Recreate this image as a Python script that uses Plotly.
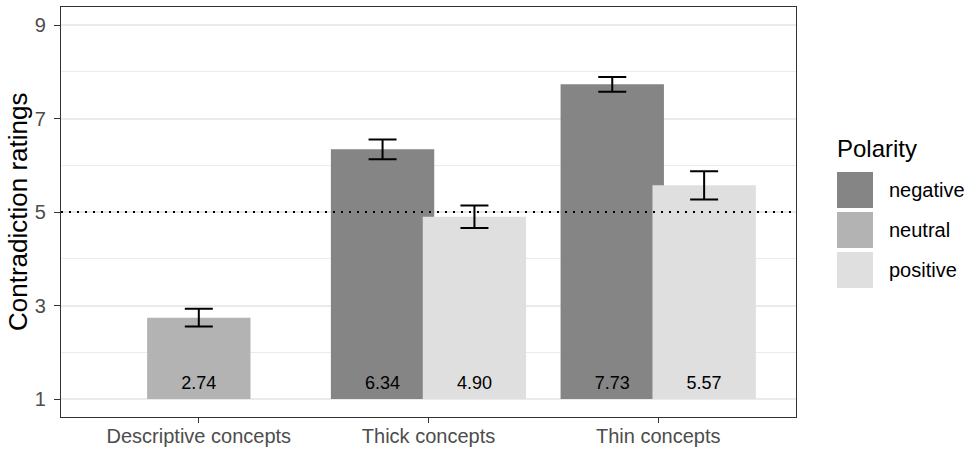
import plotly.graph_objects as go

# ---------------- data ----------------
categories = ["Descriptive concepts", "Thick concepts", "Thin concepts"]
polarities = ["negative", "neutral", "positive"]

negative_cats = ["Thick concepts", "Thin concepts"]
negative_means = [6.34, 7.73]
negative_se = [0.21, 0.16]

neutral_cats = ["Descriptive concepts"]
neutral_means = [2.74]
neutral_se = [0.19]

positive_cats = ["Thick concepts", "Thin concepts"]
positive_means = [4.90, 5.57]
positive_se = [0.24, 0.30]

y_ticks = [1, 3, 5, 7, 9]
reference_line = 5
bar_base = 1

# ---------------- style ----------------
fill = {"negative": "#858585", "neutral": "#b3b3b3", "positive": "#dfdfdf"}
dodge = {"negative": -0.2, "neutral": 0.0, "positive": 0.2}
BAR_W = 0.45
LABEL_Y = 1.32
FONT = "Liberation Sans, Arial, sans-serif"

W, H = 969, 450
ML, MR, MT, MB = 61, 173, 7, 33
PW, PH = W - ML - MR, H - MT - MB


def px_x(p):
    return (p - ML) / PW


def px_y(p):
    return (H - MB - p) / PH


series = [
    ("negative", negative_cats, negative_means, negative_se),
    ("neutral", neutral_cats, neutral_means, neutral_se),
    ("positive", positive_cats, positive_means, positive_se),
]

fig = go.Figure()
for pol, cats, means, se in series:
    xs = [categories.index(c) + dodge[pol] for c in cats]
    fig.add_trace(go.Bar(
        x=xs, y=[m - bar_base for m in means], base=bar_base, width=BAR_W,
        marker=dict(color=fill[pol], line=dict(width=0)),
        error_y=dict(type="data", array=se, visible=True, color="black",
                     thickness=2, width=14),
        name=pol, showlegend=False,
    ))
for pol, cats, means, se in series:
    xs = [categories.index(c) + dodge[pol] for c in cats]
    fig.add_trace(go.Scatter(
        x=xs, y=[LABEL_Y] * len(xs), mode="text",
        text=[f"{m:.2f}" for m in means],
        textfont=dict(family=FONT, size=18, color="black"),
        showlegend=False, hoverinfo="skip",
    ))

shapes = [dict(type="line", xref="paper", yref="y", x0=0, x1=1,
               y0=reference_line, y1=reference_line,
               line=dict(color="black", width=2.2, dash="2px,6px"))]
annotations = [dict(text="Contradiction ratings", xref="paper", yref="paper",
                    x=px_x(18), y=0.5, textangle=-90, showarrow=False,
                    xanchor="center", yanchor="middle",
                    font=dict(family=FONT, size=26, color="black")),
               dict(text="Polarity", xref="paper", yref="paper",
                    x=px_x(835), y=px_y(148), showarrow=False,
                    xanchor="left", yanchor="middle",
                    font=dict(family=FONT, size=24, color="black"))]
for i, pol in enumerate(polarities):
    top = 172 + 40 * i
    shapes.append(dict(type="rect", xref="paper", yref="paper",
                       x0=px_x(837), x1=px_x(873), y0=px_y(top + 36), y1=px_y(top),
                       fillcolor=fill[pol], line=dict(width=0)))
    annotations.append(dict(text=pol, xref="paper", yref="paper",
                            x=px_x(887), y=px_y(top + 18), showarrow=False,
                            xanchor="left", yanchor="middle",
                            font=dict(family=FONT, size=20, color="black")))

fig.update_layout(
    width=W, height=H, margin=dict(l=ML, r=MR, t=MT, b=MB, autoexpand=False),
    paper_bgcolor="white", plot_bgcolor="white",
    barmode="overlay", showlegend=False,
    shapes=shapes, annotations=annotations,
    font=dict(family=FONT),
)
fig.update_xaxes(
    automargin=False,
    range=[-0.6, 2.6], tickvals=list(range(len(categories))), ticktext=categories,
    showgrid=False, zeroline=False,
    showline=True, mirror=True, linecolor="#333333", linewidth=1.2,
    ticks="outside", ticklen=5, tickwidth=1.2, tickcolor="#333333",
    ticklabelstandoff=-4,
    tickfont=dict(family=FONT, size=20, color="#4d4d4d"),
)
fig.update_yaxes(
    automargin=False,
    range=[0.615, 9.385], tickvals=y_ticks, zeroline=False,
    showgrid=True, gridcolor="#ebebeb", gridwidth=1.5,
    minor=dict(tickvals=[2, 4, 6, 8], showgrid=True, gridcolor="#ebebeb", gridwidth=1),
    showline=True, mirror=True, linecolor="#333333", linewidth=1.2,
    ticks="outside", ticklen=6, tickwidth=1.2, tickcolor="#333333",
    ticklabelstandoff=4,
    tickfont=dict(family=FONT, size=20, color="#4d4d4d"),
)

fig.write_html("out.html")
